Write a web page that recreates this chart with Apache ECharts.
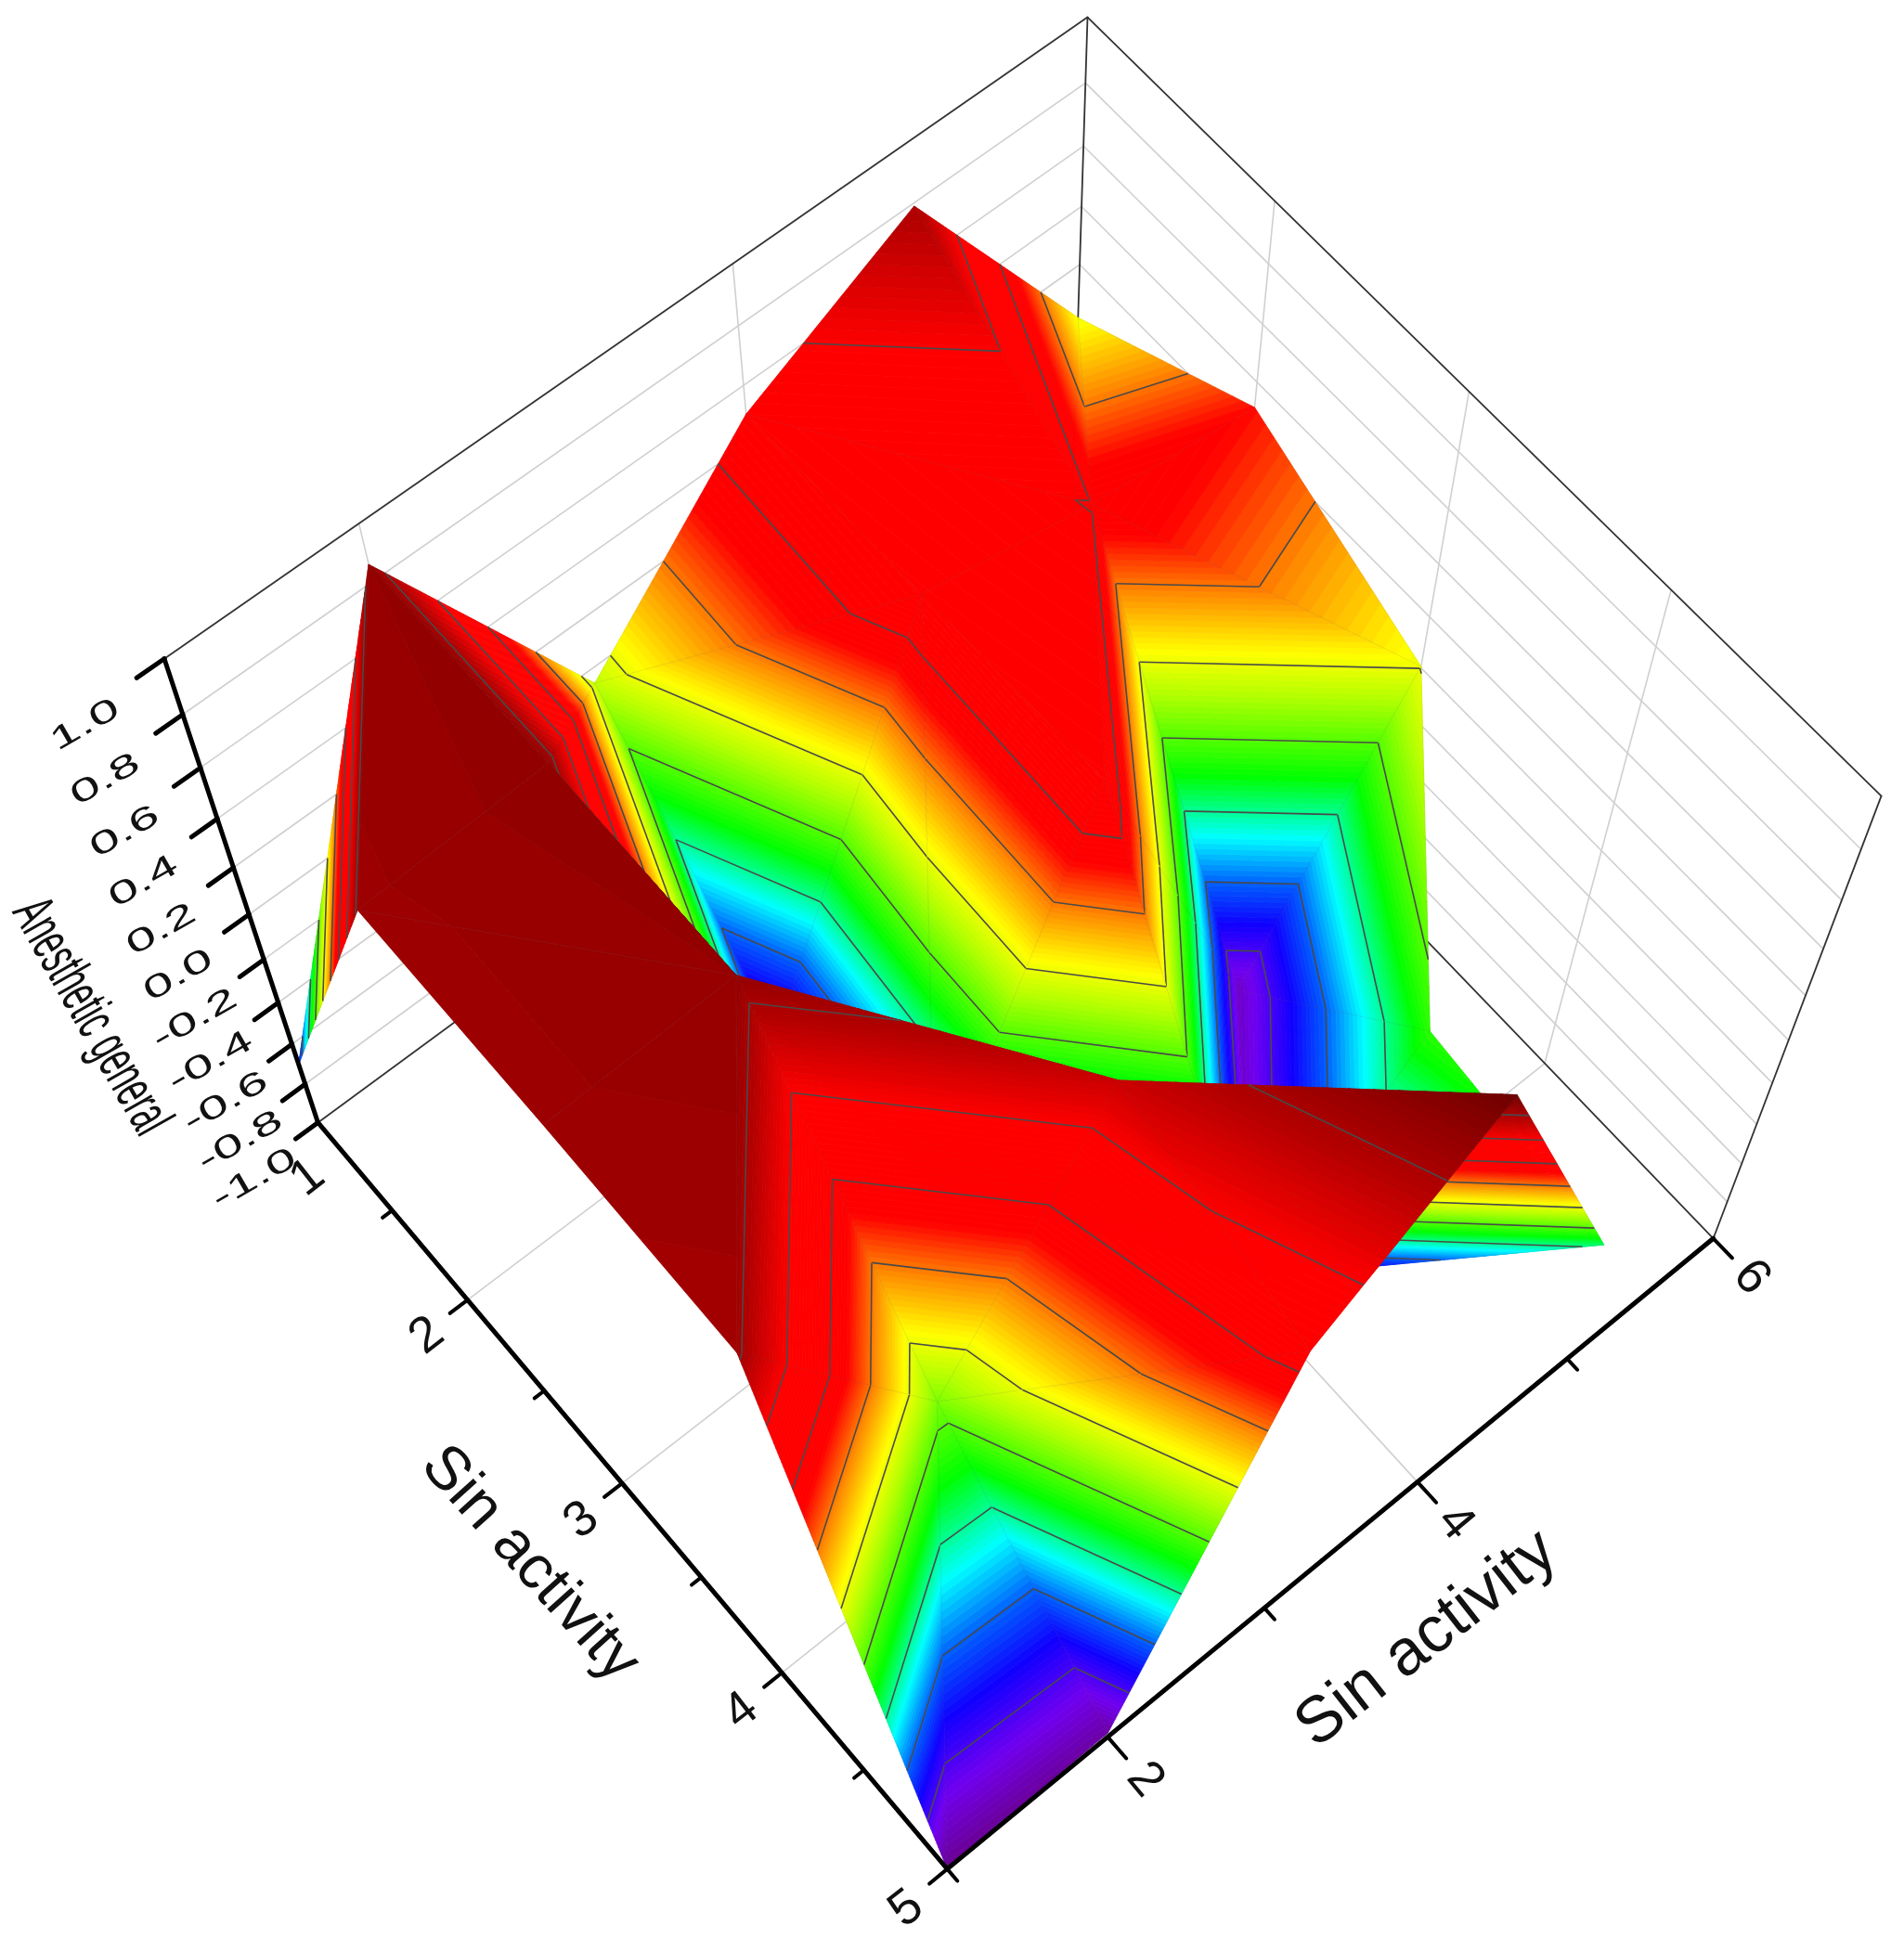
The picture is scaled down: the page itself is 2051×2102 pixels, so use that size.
<!DOCTYPE html>
<html><head><meta charset="utf-8">
<style>html,body{margin:0;padding:0;background:#fff}#c{width:2051px;height:2102px}</style>
<script src="https://cdn.jsdelivr.net/npm/echarts@6/dist/echarts.min.js"></script>
</head><body><div id="c"></div>
<script>
// ---- data ----
const xValues = [1, 2, 3, 4, 5];
const yValues = [1, 2, 3, 4, 5, 6];
const zAtX1 = [-0.70, 0.86, -0.06, 0.50, 0.79, 0.01];
const zAtX2 = [0.84, 0.87, -0.85, 0.52, 0.395, 0.31];
const zAtX3 = [0.84, 0.86, -0.72, 0.55, -0.92, 0.005];
const zAtX4 = [0.82, -0.15, 0.72, -0.88, -0.25, null];
const zAtX5 = [-1.0, -0.97, 0.47, 0.96, -0.37, null];
const zRows = [zAtX1, zAtX2, zAtX3, zAtX4, zAtX5];
// mesh diagonal of each cell: 'A' joins (i,j)-(i+1,j+1), 'B' joins (i,j+1)-(i+1,j)
const diagonals = ['BBAAB', 'ABBBA', 'BAABB', 'BAAAB'];
const zTicks = ['-1.0','-0.8','-0.6','-0.4','-0.2','0.0','0.2','0.4','0.6','0.8','1.0'];
const xTickLabels = ['1','2','3','4','5'];
const yTickLabels = ['2','4','6'];
const contourLevels = [-0.8,-0.6,-0.4,-0.2,0,0.2,0.4,0.6,0.8];
const colorStops = [[-1,'#6a0090'],[-0.86,'#7000f0'],[-0.72,'#1000ff'],[-0.6,'#0060ff'],[-0.47,'#00ffff'],
  [-0.3,'#00ff00'],[-0.08,'#b4ff00'],[0.03,'#ffff00'],[0.18,'#ff8a00'],[0.32,'#ff0000'],[0.6,'#ff0000'],
  [0.76,'#b80000'],[0.88,'#8e0000'],[0.96,'#6e0000']];
const xTitle = 'Sin activity', yTitle = 'Sin activity', zTitle = 'Anesthetic general';
const zMin = -1, zMax = 1, xMin = 1, xMax = 5, yMin = 1, yMax = 6;

// ---- camera: fitted from the corners of the drawn box ----
const boxAnchors = [
  [0,0,0,343,1210],[1,0,0,1020,2014],[1,1,0,1847,1335],
  [0,0,1,177,710],[1,1,1,2026,858],[0,1,1,1172,18],
  [0.25,0,0,503,1400],[1,0.6,0,1528,1595],[0.75,1,0,1662,1146]
];
function fitCamera(a){
  const n=11, M=Array.from({length:n},()=>new Array(n+1).fill(0));
  const add=(r,b)=>{for(let i=0;i<n;i++){for(let j=0;j<n;j++)M[i][j]+=r[i]*r[j];M[i][n]+=r[i]*b;}};
  a.forEach(([u,v,w,sx,sy])=>{sx/=1000;sy/=1000;
    add([u,v,w,1,0,0,0,0,-sx*u,-sx*v,-sx*w],sx);
    add([0,0,0,0,u,v,w,1,-sy*u,-sy*v,-sy*w],sy);});
  for(let c=0;c<n;c++){let p=c;for(let r=c+1;r<n;r++)if(Math.abs(M[r][c])>Math.abs(M[p][c]))p=r;
    [M[c],M[p]]=[M[p],M[c]];
    for(let r=0;r<n;r++)if(r!==c){const f=M[r][c]/M[c][c];for(let k=c;k<=n;k++)M[r][k]-=f*M[c][k];}}
  return M.map((r,i)=>r[n]/r[i]);
}
const cam = fitCamera(boxAnchors);
function projUVW(u,v,w){
  const d=cam[8]*u+cam[9]*v+cam[10]*w+1;
  return [1000*(cam[0]*u+cam[1]*v+cam[2]*w+cam[3])/d, 1000*(cam[4]*u+cam[5]*v+cam[6]*w+cam[7])/d];
}
// x,y go through the chart's own (hidden) axes; z through its axis range
function projector(params, api){
  const cs=params.coordSys;
  return (x,y,z)=>{
    const c=api.coord([x,y]);
    const u=(c[0]-cs.x)/cs.width, v=(cs.y+cs.height-c[1])/cs.height;
    return projUVW(u,v,(z-zMin)/(zMax-zMin));
  };
}
function colorAt(z){
  for(let i=1;i<colorStops.length;i++){
    if(z<=colorStops[i][0]){
      const a=colorStops[i-1],b=colorStops[i];
      return echarts.color.lerp((z-a[0])/(b[0]-a[0]),[a[1],b[1]]);
    }
  }
  return colorStops[colorStops.length-1][1];
}
// ---- triangles, far cells first ----
const triangles=[];
for(let i=0;i<xValues.length-1;i++){
  for(let j=yValues.length-2;j>=0;j--){
    const V=(a,b)=>[xValues[a],yValues[b],zRows[a][b]];
    const tris = diagonals[i][j]==='A'
      ? [[V(i,j),V(i,j+1),V(i+1,j+1)],[V(i,j),V(i+1,j),V(i+1,j+1)]]
      : [[V(i,j),V(i,j+1),V(i+1,j)],[V(i,j+1),V(i+1,j+1),V(i+1,j)]];
    tris.forEach(t=>{ if(t.every(p=>p[2]!==null)) triangles.push(t.flat()); });
  }
}
function clipBelow(poly,level,keepBelow){
  const out=[];
  for(let i=0;i<poly.length;i++){
    const a=poly[i],b=poly[(i+1)%poly.length];
    const ia=keepBelow?a[2]<=level:a[2]>=level, ib=keepBelow?b[2]<=level:b[2]>=level;
    if(ia)out.push(a);
    if(ia!==ib){const t=(level-a[2])/(b[2]-a[2]);out.push([a[0]+t*(b[0]-a[0]),a[1]+t*(b[1]-a[1]),level]);}
  }
  return out;
}
const bandStep=0.015;
function renderSurface(params,api){
  const P=projector(params,api);
  const g=[0,3,6].map(k=>[api.value(k),api.value(k+1),api.value(k+2)]);
  const children=[];
  const lo=Math.min(g[0][2],g[1][2],g[2][2]), hi=Math.max(g[0][2],g[1][2],g[2][2]);
  for(let b=Math.floor((lo+1)/bandStep);b*bandStep-1<hi;b++){
    const l=b*bandStep-1,h=l+bandStep;
    let poly=clipBelow(clipBelow(g,h,true),l,false);
    if(poly.length<3)continue;
    const col=colorAt(l+bandStep/2);
    children.push({type:'polygon',shape:{points:poly.map(p=>P(p[0],p[1],p[2]))},
      style:{fill:col,stroke:col,lineWidth:0.8,lineJoin:'round'},silent:true});
  }
  children.push({type:'polygon',shape:{points:g.map(p=>P(p[0],p[1],p[2]))},
    style:{fill:'none',stroke:'rgba(90,90,90,0.10)',lineWidth:1},silent:true});
  contourLevels.forEach(level=>{
    const pts=[];
    for(let i=0;i<3;i++){
      const a=g[i],b=g[(i+1)%3];
      if((a[2]-level)*(b[2]-level)<0){
        const t=(level-a[2])/(b[2]-a[2]);
        pts.push(P(a[0]+t*(b[0]-a[0]),a[1]+t*(b[1]-a[1]),level));
      }
    }
    if(pts.length===2)children.push({type:'polyline',shape:{points:pts},
      style:{fill:'none',stroke:'#4a4a4a',lineWidth:1.6},silent:true});
  });
  return {type:'group',children};
}
const seg=(a,b,stroke,lineWidth)=>({type:'polyline',shape:{points:[a,b]},style:{fill:'none',stroke,lineWidth,lineCap:'round'},silent:true});
function renderBox(params,api){
  const P=projector(params,api), ch=[], grey='#d0d0d0', w=1.6;
  const zs=zTicks.map(Number);
  zs.forEach(z=>{
    if(z>zMin&&z<zMax){
      ch.push(seg(P(xMin,yMin,z),P(xMin,yMax,z),grey,w));
      ch.push(seg(P(xMin,yMax,z),P(xMax,yMax,z),grey,w));
    }
  });
  [2,4].forEach(y=>{
    ch.push(seg(P(xMin,y,zMin),P(xMin,y,zMax),grey,w));
    ch.push(seg(P(xMin,y,zMin),P(xMax,y,zMin),grey,w));
  });
  [2,3,4].forEach(x=>{
    ch.push(seg(P(x,yMax,zMin),P(x,yMax,zMax),grey,w));
    ch.push(seg(P(x,yMin,zMin),P(x,yMax,zMin),grey,w));
  });
  const f='#333';
  ch.push(seg(P(xMin,yMin,zMax),P(xMin,yMax,zMax),f,1.8));
  ch.push(seg(P(xMin,yMax,zMax),P(xMax,yMax,zMax),f,1.8));
  ch.push(seg(P(xMax,yMax,zMax),P(xMax,yMax,zMin),f,1.8));
  ch.push(seg(P(xMin,yMax,zMax),P(xMin,yMax,zMin),f,1.8));
  ch.push(seg(P(xMin,yMin,zMin),P(xMin,yMax,zMin),f,1.8));
  ch.push(seg(P(xMin,yMax,zMin),P(xMax,yMax,zMin),f,1.8));
  return {type:'group',children:ch};
}
const FONT='"Liberation Sans", Arial, sans-serif';
const label=(p,text,size,deg,sx,sy)=>({type:'text',x:p[0],y:p[1],rotation:deg*Math.PI/180,scaleX:sx,scaleY:sy,silent:true,
  style:{text,x:0,y:0,fill:'#111',fontSize:size,fontFamily:FONT,align:'center',verticalAlign:'middle'}});
function renderAxes(params,api){
  const P=projector(params,api), ch=[], k='#000', lw=5;
  ch.push(seg(P(xMin,yMin,zMax),P(xMin,yMin,zMin),k,lw));
  ch.push(seg(P(xMin,yMin,zMin),P(xMax,yMin,zMin),k,lw));
  ch.push(seg(P(xMax,yMin,zMin),P(xMax,yMax,zMin),k,lw));
  zTicks.forEach(t=>{const z=Number(t);
    ch.push(seg(P(xMin,yMin,z),P(xMin,yMin-0.14,z),k,lw));
    ch.push(label(P(xMin+0.035,yMin-0.43,z),t,34,30,1.7,1));
  });
  for(let x=xMin;x<=xMax;x+=0.5){
    const major=Number.isInteger(x);
    ch.push(seg(P(x,yMin,zMin),P(x,yMin-(major?0.11:0.06),zMin),k,lw-1));
  }
  for(let y=yMin;y<=yMax;y+=1){
    ch.push(seg(P(xMax,y,zMin),P(xMax+(y%2===0?0.11:0.06),y,zMin),k,lw-1));
  }
  xTickLabels.forEach(t=>{const x=Number(t);
    const at=x===1?P(1.17,yMin-0.22,zMin):P(x+0.02,yMin-0.27,zMin);
    ch.push(label(at,t,54,38,1,1));
  });
  yTickLabels.forEach(t=>{ch.push(label(P(xMax+0.22,Number(t),zMin),t,54,-50,1,1));});
  ch.push(label(P(3.03,yMin-0.6,zMin),xTitle,66,-48,1,1));
  ch.push(label(P(xMax+0.5,3.5,zMin),yTitle,70,38,1,1));
  ch.push(label(P(0.635,yMin-0.75,-0.35),zTitle,64,-60.5,0.53,1));
  return {type:'group',children:ch};
}
const chart=echarts.init(document.getElementById('c'),null,{renderer:'canvas',width:2051,height:2102});
chart.setOption({
  backgroundColor:'#ffffff',animation:false,
  grid:{left:0,right:0,top:0,bottom:0,containLabel:false},
  xAxis:{type:'value',min:xMin,max:xMax,show:false},
  yAxis:{type:'value',min:yMin,max:yMax,show:false},
  tooltip:{show:false},
  series:[
    {type:'custom',coordinateSystem:'cartesian2d',clip:false,silent:true,z:1,data:[[1,1]],encode:{x:0,y:1},renderItem:renderBox},
    {type:'custom',coordinateSystem:'cartesian2d',clip:false,silent:true,z:2,progressive:0,data:triangles,encode:{x:0,y:1},renderItem:renderSurface},
    {type:'custom',coordinateSystem:'cartesian2d',clip:false,silent:true,z:3,data:[[1,1]],encode:{x:0,y:1},renderItem:renderAxes}
  ]
});
</script></body></html>
